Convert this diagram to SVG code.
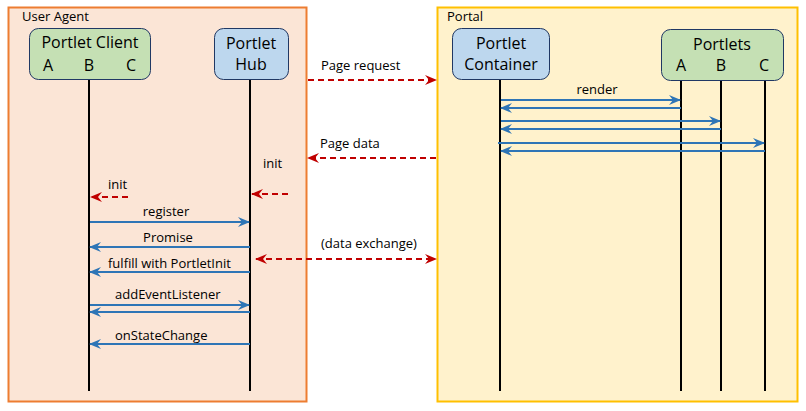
<svg xmlns="http://www.w3.org/2000/svg" width="806" height="411" viewBox="0 0 806 411">
  <defs>
    <marker id="ab" viewBox="0 0 12 10" refX="11" refY="5" markerWidth="12" markerHeight="10" markerUnits="userSpaceOnUse" orient="auto-start-reverse">
      <path d="M0,0 L12,5 L0,10 L4,5 z" fill="#2E75B6"/>
    </marker>
    <marker id="ar" viewBox="0 0 12 10" refX="11" refY="5" markerWidth="12" markerHeight="10" markerUnits="userSpaceOnUse" orient="auto-start-reverse">
      <path d="M0,0 L12,5 L0,10 L4,5 z" fill="#C00000"/>
    </marker>
    <style>
      text { font-family: "Open Sans", "Liberation Sans", sans-serif; fill: #000; }
      .lbl { font-size: 13px; }
      .title { font-size: 16px; }
      .node-g { fill: #C5E0B4; stroke: #203864; stroke-width: 1; }
      .node-b { fill: #BDD7EE; stroke: #203864; stroke-width: 1; }
      .life { stroke: #000; stroke-width: 2; }
      .blue { stroke: #2E75B6; stroke-width: 2; fill: none; marker-end: url(#ab); }
      .red { stroke: #C00000; stroke-width: 2; fill: none; stroke-dasharray: 6 4; marker-end: url(#ar); }
    </style>
  </defs>

  <!-- frames -->
  <g id="user-agent">
    <rect x="8.5" y="7.5" width="298" height="394" fill="#FBE5D6" stroke="#ED7D31" stroke-width="2"/>
    <text class="lbl" x="22" y="21">User Agent</text>
  </g>
  <g id="portal">
    <rect x="437.5" y="7.5" width="360" height="394" fill="#FFF2CC" stroke="#FFC000" stroke-width="2"/>
    <text class="lbl" x="447" y="21">Portal</text>
  </g>

  <!-- lifelines -->
  <g id="lifelines">
    <line class="life" x1="89" y1="79" x2="89" y2="391"/>
    <line class="life" x1="250" y1="79" x2="250" y2="391"/>
    <line class="life" x1="500" y1="79" x2="500" y2="391"/>
    <line class="life" x1="681" y1="80" x2="681" y2="391"/>
    <line class="life" x1="721" y1="80" x2="721" y2="391"/>
    <line class="life" x1="765" y1="80" x2="765" y2="391"/>
  </g>

  <!-- nodes -->
  <g id="portlet-client">
    <rect class="node-g" x="29.5" y="28.5" width="121" height="51" rx="9"/>
    <text class="title" x="90" y="48" text-anchor="middle">Portlet Client</text>
    <text class="title" x="48" y="71" text-anchor="middle">A</text>
    <text class="title" x="89" y="71" text-anchor="middle">B</text>
    <text class="title" x="131" y="71" text-anchor="middle">C</text>
  </g>
  <g id="portlet-hub">
    <rect class="node-b" x="214.5" y="28.5" width="74" height="51" rx="9"/>
    <text class="title" x="251" y="49" text-anchor="middle">Portlet</text>
    <text class="title" x="251" y="70" text-anchor="middle">Hub</text>
  </g>
  <g id="portlet-container">
    <rect class="node-b" x="452.5" y="28.5" width="97" height="51" rx="9"/>
    <text class="title" x="501" y="49" text-anchor="middle">Portlet</text>
    <text class="title" x="501" y="70" text-anchor="middle">Container</text>
  </g>
  <g id="portlets">
    <rect class="node-g" x="661.5" y="29.5" width="122" height="51" rx="9"/>
    <text class="title" x="722" y="50" text-anchor="middle">Portlets</text>
    <text class="title" x="681" y="71" text-anchor="middle">A</text>
    <text class="title" x="721" y="71" text-anchor="middle">B</text>
    <text class="title" x="764" y="71" text-anchor="middle">C</text>
  </g>

  <!-- connectors -->
  <g id="connectors">
    <path class="red" d="M308,80 H436"/>
    <path class="red" d="M436,158 H308"/>
    <path class="red" d="M288,194 H252"/>
    <path class="red" d="M128,197 H91"/>
    <path class="red" d="M256,259 H436" marker-start="url(#ar)"/>

    <path class="blue" d="M90,222 H249"/>
    <path class="blue" d="M250,247 H90"/>
    <path class="blue" d="M250,272 H90"/>
    <path class="blue" d="M90,305 H249"/>
    <path class="blue" d="M250,312 H90"/>
    <path class="blue" d="M250,344 H90"/>

    <path class="blue" d="M501,100 H680"/>
    <path class="blue" d="M681,108 H501"/>
    <path class="blue" d="M501,121 H720"/>
    <path class="blue" d="M721,129 H501"/>
    <path class="blue" d="M498,143 H764"/>
    <path class="blue" d="M765,151 H501"/>
  </g>

  <!-- connector labels -->
  <g id="labels">
    <text class="lbl" x="321" y="70">Page request</text>
    <text class="lbl" x="320" y="148">Page data</text>
    <text class="lbl" x="263" y="168">init</text>
    <text class="lbl" x="108" y="189">init</text>
    <text class="lbl" x="166" y="216" text-anchor="middle">register</text>
    <text class="lbl" x="168" y="242" text-anchor="middle">Promise</text>
    <text class="lbl" x="321" y="248">(data exchange)</text>
    <text class="lbl" x="108" y="268">fulfill with PortletInit</text>
    <text class="lbl" x="115" y="299">addEventListener</text>
    <text class="lbl" x="115" y="340">onStateChange</text>
    <text class="lbl" x="597" y="94" text-anchor="middle">render</text>
  </g>
</svg>
